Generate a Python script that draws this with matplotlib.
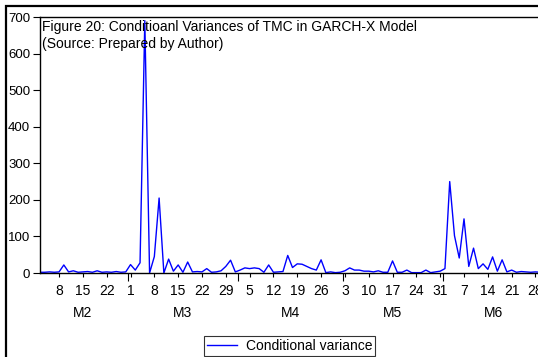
import numpy as np
import pandas as pd
import matplotlib
matplotlib.use("Agg")
import matplotlib.pyplot as plt
from matplotlib.patches import Rectangle
from matplotlib.lines import Line2D
import matplotlib.transforms as mtransforms

plt.rcParams['font.family'] = ['Liberation Sans', 'DejaVu Sans']

# ---- data ----
dates = pd.bdate_range('2021-02-02', '2021-06-30')
feb = [2, 2, 3, 2, 3, 22, 3, 6, 2, 3, 4, 2, 6, 2, 3, 2, 4, 2, 3]
mar = [23, 8, 28, 690, 0, 45, 205, 0, 38, 5, 22, 2, 30, 3, 4, 3, 12, 2, 3, 6, 18, 35, 3]
apr = [8, 14, 12, 14, 12, 2, 22, 2, 3, 4, 48, 15, 25, 24, 18, 12, 8, 36, 1, 3, 1, 2]
may = [6, 14, 8, 8, 5, 5, 3, 6, 2, 2, 33, 2, 2, 8, 1, 1, 1, 8, 1, 3, 5]
jun = [12, 250, 102, 41, 148, 18, 68, 12, 25, 10, 44, 5, 36, 3, 8, 2, 4, 3, 2, 3, 2, 3]
variance = feb + mar + apr + may + jun
series_label = "Conditional variance"
title_lines = ["Figure 20: Conditioanl Variances of TMC in GARCH-X Model",
               "(Source: Prepared by Author)"]
yticks = [0, 100, 200, 300, 400, 500, 600, 700]

W, H = 538, 357
fig = plt.figure(figsize=(W / 100, H / 100), dpi=100)
ax = fig.add_axes([40 / W, (H - 273) / H, 505 / W, (273 - 17) / H])

x = np.arange(len(variance))
ax.plot(x, variance, color='#0000FF', lw=1.0)
ax.set_xlim(0, len(variance) - 1)
ax.set_ylim(0, 700)

# y axis
ax.set_yticks(yticks)
ax.set_yticklabels([str(v) for v in yticks])
ax.tick_params(axis='y', direction='out', length=5, width=0.8, pad=2, labelsize=9.5)

# x axis: weekly (Mondays) ticks and month boundaries
mondays = np.where(dates.dayofweek == 0)[0]
ax.set_xticks(mondays)
ax.set_xticklabels([str(dates[i].day) for i in mondays])
months = dates.month.values
starts = [0] + list(np.where(np.diff(months) != 0)[0] + 1)
bounds = [s - 0.5 for s in starts[1:]]
ax.set_xticks(bounds, minor=True)
ax.tick_params(axis='x', which='major', direction='out', length=3, width=0.8, pad=5, labelsize=10)
ax.tick_params(axis='x', which='minor', direction='out', length=6, width=0.8)

edges = [-0.5] + bounds + [len(variance) - 1]
trans = mtransforms.blended_transform_factory(ax.transData, ax.transAxes)
for k in range(len(starts)):
    c = (edges[k] + edges[k + 1]) / 2
    ax.text(c, -0.155, "M%d" % months[starts[k]], transform=trans,
            ha='center', va='center', fontsize=10)

for s in ['left', 'top', 'bottom', 'right']:
    ax.spines[s].set_linewidth(1.0)

# title inside plot
ax.text(0.003, 0.988, title_lines[0] + "\n" + title_lines[1], transform=ax.transAxes,
        ha='left', va='top', fontsize=10, linespacing=1.3)

# legend
h = Line2D([], [], color='#0000FF', lw=1.0)
leg = fig.legend([h], [series_label], loc='center',
                 bbox_to_anchor=(289.5 / W, 1 - 346 / H), bbox_transform=fig.transFigure,
                 fontsize=10, frameon=True, fancybox=False, edgecolor='black',
                 handlelength=2.2, handletextpad=0.6, borderpad=0.2)
leg.get_frame().set_linewidth(0.8)

# outer frame
fig.patches.append(Rectangle((6 / W, -0.1), 1.2, 1.1 - 6 / H, transform=fig.transFigure,
                             fill=False, ec='black', lw=1.6))

fig.savefig('out.png', dpi=100)
